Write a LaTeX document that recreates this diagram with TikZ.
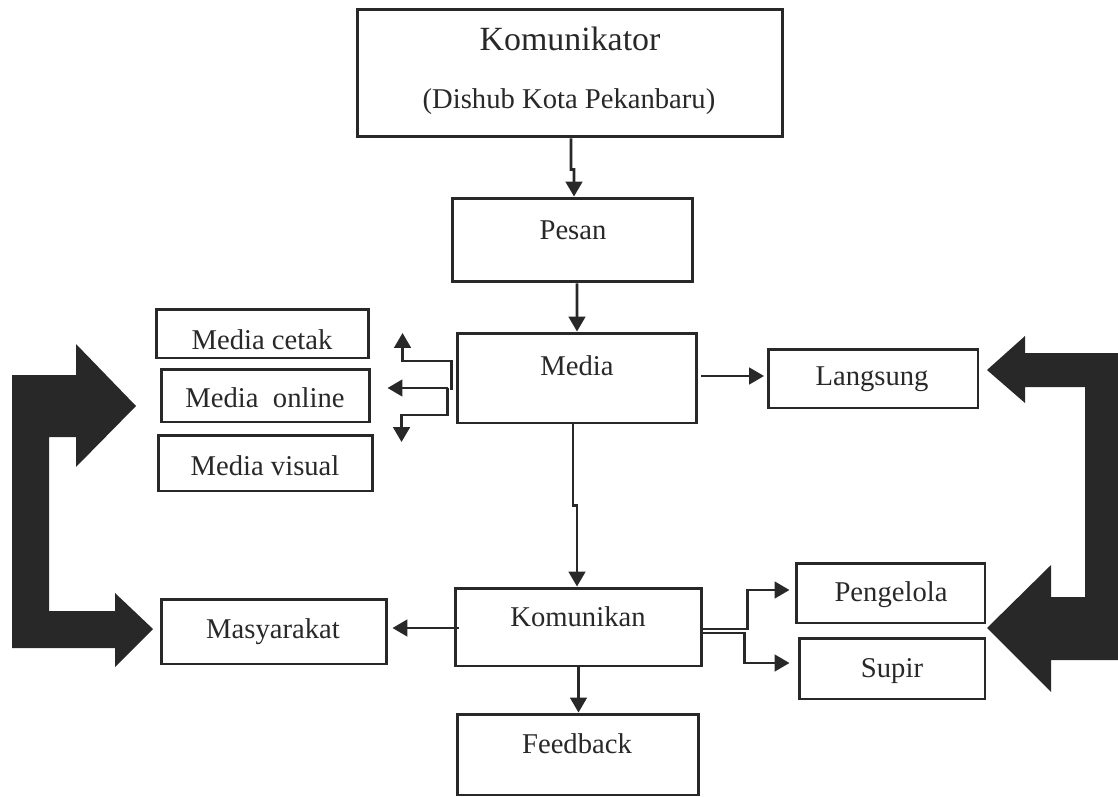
\documentclass[tikz,border=0pt]{standalone}
\usepackage{fontspec}
\setmainfont{Liberation Serif}
\usetikzlibrary{arrows.meta,calc}
\definecolor{ink}{RGB}{40,40,40}
\tikzset{
  boxnode/.style={draw=ink, line width=1.7pt, rectangle, inner sep=0pt},
  lbl/.style={anchor=base, inner sep=0pt, text=ink, font=\fontsize{16.3}{19}\selectfont},
  biglbl/.style={anchor=base, inner sep=0pt, text=ink, font=\fontsize{19.3}{22}\selectfont},
  conn/.style={draw=ink, line width=1.5pt, -{Triangle[length=8.5pt,width=9.5pt]}},
  bigarrow/.style={fill=ink, draw=none}
}
\begin{document}
\begin{tikzpicture}[x=0.02cm, y=-0.02cm]
\useasboundingbox (0,0) rectangle (1118,797);

% boxes
\node[boxnode, minimum width=8.52cm, minimum height=2.56cm] (kom) at (570,73) {};
\node[boxnode, minimum width=4.82cm, minimum height=1.68cm] (pesan) at (572.5,240) {};
\node[boxnode, minimum width=4.80cm, minimum height=1.80cm] (media) at (577,378) {};
\node[boxnode, minimum width=4.26cm, minimum height=0.98cm] (mcetak) at (262.5,333.5) {};
\node[boxnode, minimum width=4.18cm, minimum height=1.06cm] (monline) at (265.5,395.5) {};
\node[boxnode, minimum width=4.30cm, minimum height=1.12cm] (mvisual) at (265.5,463) {};
\node[boxnode, minimum width=4.20cm, minimum height=1.18cm] (langsung) at (873,378.5) {};
\node[boxnode, minimum width=4.94cm, minimum height=1.56cm] (komunikan) at (578.5,627) {};
\node[boxnode, minimum width=4.52cm, minimum height=1.30cm] (masy) at (274,631.5) {};
\node[boxnode, minimum width=3.78cm, minimum height=1.20cm] (pengelola) at (890.5,593) {};
\node[boxnode, minimum width=3.72cm, minimum height=1.22cm] (supir) at (892,668.5) {};
\node[boxnode, minimum width=4.84cm, minimum height=1.62cm] (feedback) at (578,754.5) {};

% texts
\node[biglbl] (tkom1) at (570,51) {Komunikator};
\node[lbl] (tkom2) at (569,109) {(Dishub Kota Pekanbaru)};
\node[lbl] (tpesan) at (573,239.5) {Pesan};
\node[lbl] (tmedia) at (577,375) {Media};
\node[lbl] (tmcetak) at (262,349.5) {Media cetak};
\node[lbl] (tmonline) at (265,407.5) {Media\ \ online};
\node[lbl] (tmvisual) at (265,475.5) {Media visual};
\node[lbl] (tlangsung) at (872,385.5) {Langsung};
\node[lbl] (tkomunikan) at (578,626.5) {Komunikan};
\node[lbl] (tmasy) at (273,638.5) {Masyarakat};
\node[lbl] (tpengelola) at (891,601.5) {Pengelola};
\node[lbl] (tsupir) at (892,677.5) {Supir};
\node[lbl] (tfeedback) at (577,753.5) {Feedback};

% connectors
\draw[conn] ($(kom.south)+(1,0)$) -- ++(0,31) -- ++(3,0) -- ($(pesan.north)+(1.5,0)$);
\draw[conn] ($(pesan.south)+(4.5,0)$) -- (media.north);
\draw[conn] ($(media.south)+(-4,0)$) -- ++(0,81) -- ++(4,0) -- ($(komunikan.north)+(-1.5,0)$);
\draw[conn] (komunikan.south) -- (komunikan.south |- feedback.north);

\coordinate (k1) at ($(komunikan.west)+(5,1)$);
\draw[conn, shorten >=0.08cm] (k1) -- (k1 -| masy.east);

\coordinate (m1) at ($(media.east)+(3,-2)$);
\draw[conn, shorten >=0.05cm] (m1) -- (m1 -| langsung.west);

% media fan-out
\draw[conn] ($(media.west)+(-4,12)$) -- ++(0,-29) -- ++(-49,0) -- ++(0,-28);
\draw[conn] ($(media.west)+(-8,10)$) -- ++(-60,0);
\draw[conn] ($(media.west)+(-8,10)$) -- ++(0,27) -- ++(-46,0) -- ++(0,27);

% komunikan -> pengelola / supir
\draw[conn] ($(komunikan.east)+(0,2)$) -- ++(44,0) -- ++(0,-39) -- ++(42,0);
\draw[conn] ($(komunikan.east)+(0,6)$) -- ++(41,0) -- ++(0,30) -- ++(45,0);

% big bent arrows
\path[bigarrow] (12,375) -- (76,375) -- (76,344) -- (136,406) -- (76,467) -- (76,437)
  -- (49,437) -- (49,611) -- (115,611) -- (115,593) -- (153,629) -- (115,667)
  -- (115,648) -- (12,648) -- cycle;
\path[bigarrow] (1118,353) -- (1025,353) -- (1025,336) -- (987,370) -- (1025,403)
  -- (1025,387) -- (1085,387) -- (1085,597) -- (1051,597) -- (1051,565) -- (987,628)
  -- (1051,692) -- (1051,660) -- (1118,660) -- cycle;
\end{tikzpicture}
\end{document}
